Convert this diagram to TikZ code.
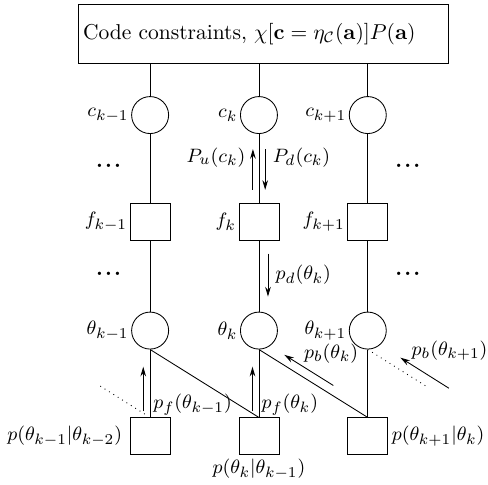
\documentclass[tikz,border=0pt]{standalone}
\usepackage{amsmath}
\usetikzlibrary{arrows.meta,positioning,calc}

\newcommand{\lblsize}{\fontsize{9.3pt}{11pt}\selectfont}

\begin{document}
\begin{tikzpicture}[
    var/.style={draw, circle, minimum size=17.2pt, inner sep=0pt},
    fac/.style={draw, minimum width=18.6pt, minimum height=17.2pt, inner sep=0pt},
    lbl/.style={inner sep=1pt, font=\lblsize},
    every label/.style={font=\lblsize},
    msg/.style={-{Stealth[length=4.5pt,width=2.6pt]}},
    dots/.style={font=\bfseries, inner sep=0pt}
]
    \useasboundingbox (-120.4pt,53.5pt) rectangle (106.5pt,-171.6pt);

    % variable and factor nodes
    \node[var, label={[lbl]left:$c_k$}] (ck) at (0,0) {};
    \node[var, left=33pt of ck, label={[lbl]left:$c_{k-1}$}] (ckm) {};
    \node[var, right=33pt of ck, label={[lbl]left:$c_{k+1}$}] (ckp) {};
    \node[draw, minimum width=171.6pt, minimum height=27.4pt, inner xsep=1.9pt, text width=167.8pt, align=left,
          above=14.9pt of ck, xshift=2.1pt] (code) {Code constraints, $\chi[\mathbf{c}=\eta_{\mathcal{C}}(\mathbf{a})]P(\mathbf{a})$};

    \node[fac, below=32pt of ck, label={[lbl]left:$f_k$}] (fk) {};
    \node[fac, below=32pt of ckm, label={[lbl]left:$f_{k-1}$}] (fkm) {};
    \node[fac, below=32pt of ckp, label={[lbl]left:$f_{k+1}$}] (fkp) {};

    \node[var, below=33pt of fk, label={[lbl]left:$\theta_k$}] (thk) {};
    \node[var, below=33pt of fkm, label={[lbl]left:$\theta_{k-1}$}] (thkm) {};
    \node[var, below=33pt of fkp, label={[lbl]left:$\theta_{k+1}$}] (thkp) {};

    \node[fac, below=31.6pt of thk, label={[inner sep=1.5pt]below:$p(\theta_k|\theta_{k-1})$}] (pk) {};
    \node[fac, below=31.6pt of thkm, label={left:$p(\theta_{k-1}|\theta_{k-2})$}] (pkm) {};
    \node[fac, below=31.6pt of thkp, label={[inner sep=1.5pt]right:$p(\theta_{k+1}|\theta_k)$}] (pkp) {};

    \coordinate (thprev) at ([xshift=-50.2pt]thkm.south);
    \coordinate (pnext) at ([xshift=50.2pt]pkp.north);

    % dots
    \node[dots] (dl1) at ($(ckm.south)!0.5!(fkm.north)+(-19.3pt,1pt)$) {.\kern1pt.\kern1pt.};
    \node[dots] (dr1) at ($(ckp.south)!0.5!(fkp.north)+(18.6pt,1pt)$) {.\kern1pt.\kern1pt.};
    \node[dots] (dl2) at ($(fkm.south)!0.5!(thkm.north)+(-19.3pt,1pt)$) {.\kern1pt.\kern1pt.};
    \node[dots] (dr2) at ($(fkp.south)!0.5!(thkp.north)+(18.6pt,1pt)$) {.\kern1pt.\kern1pt.};

    % edges
    \draw (code.south -| ckm) -- (ckm.north);
    \draw (code.south -| ck) -- (ck.north);
    \draw (code.south -| ckp) -- (ckp.north);
    \draw (ckm) -- (fkm) -- (thkm) -- (pkm);
    \draw (ck) -- (fk) -- (thk) -- (pk);
    \draw (ckp) -- (fkp) -- (thkp) -- (pkp);
    \draw (thkm.south) -- (pk.north);
    \draw (thk.south) -- (pkp.north);
    \draw[dotted] (thkp.south) -- ($(thkp.south)!0.54!(pnext)$);
    \draw[dotted] ($(pkm.north)!0.05!(thprev)$) -- ($(pkm.north)!0.48!(thprev)$);

    % messages
    \draw[msg] ([shift={(-2.8pt,6pt)}]fk.north) -- node[pos=0.8, left, font=\lblsize] (lpu) {$P_u(c_k)$} ([shift={(-2.8pt,-7pt)}]ck.south);
    \draw[msg] ([shift={(2.9pt,-7pt)}]ck.south) -- node[pos=0.2, right, font=\lblsize] (lpd) {$P_d(c_k)$} ([shift={(2.9pt,6pt)}]fk.north);
    \draw[msg] ([shift={(4.2pt,-6pt)}]fk.south) -- node[midway, right, font=\lblsize] (lpdt) {$p_d(\theta_k)$} ([shift={(4.2pt,7pt)}]thk.north);
    \draw[msg] ([shift={(-3.2pt,2.8pt)}]pkm.north) node[lbl, anchor=south west, xshift=3.5pt, yshift=-3pt] (lpfm) {$p_f(\theta_{k-1})$}
        -- ([shift={(-3.2pt,-8pt)}]thkm.south);
    \draw[msg] ([shift={(-3pt,2.8pt)}]pk.north) node[lbl, anchor=south west, xshift=3pt, yshift=-3pt] (lpf) {$p_f(\theta_k)$}
        -- ([shift={(-3pt,-8pt)}]thk.south);
    \draw[msg] ($(thk.south)!0.64!(pkp.north)+(2.2pt,3.5pt)$) -- node[pos=0.65, lbl, anchor=south west] (lpb) {$p_b(\theta_k)$}
        ($(thk.south)!0.19!(pkp.north)+(2.2pt,3.5pt)$);
    \draw[msg] ($(thkp.south)!0.7!(pnext)+(2.6pt,4.1pt)$) -- node[pos=0.82, lbl, anchor=south west] (lpbp) {$p_b(\theta_{k+1})$}
        ($(thkp.south)!0.25!(pnext)+(2.6pt,4.1pt)$);
\end{tikzpicture}
\end{document}
